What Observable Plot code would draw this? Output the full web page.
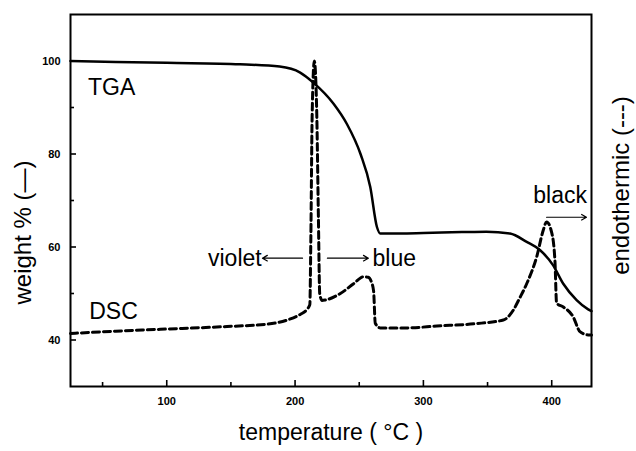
<!DOCTYPE html>
<html><head><meta charset="utf-8">
<script src="https://cdn.jsdelivr.net/npm/d3@7"></script>
<script src="https://cdn.jsdelivr.net/npm/@observablehq/plot@0.6"></script>
<style>
body{margin:0;background:#fff;}
#chart svg{display:block;}
</style></head><body><div id="chart"></div>
<script>
// TGA curve (solid): temperature (°C) -> weight %
const tgaTemp   = [25, 100, 157, 188, 204, 214, 230, 240.5, 251, 258.6, 263.8, 266.4, 282, 300, 330, 349, 367.5, 380.5, 391, 401, 409, 419.4, 428.4, 431];
const tgaWeight = [100, 99.6, 99.3, 98.8, 97.5, 95.4, 90.8, 86.4, 80, 72.9, 64.3, 62.9, 62.9, 63.0, 63.2, 63.3, 62.9, 61.1, 59.3, 56.1, 52.1, 48.6, 46.6, 46.2];
// DSC curve (dashed): temperature (°C) -> endothermic signal (same axis units)
const dscTemp   = [25, 60, 95, 147, 178, 195, 204, 209, 211.5, 212.3, 213.3, 215, 216.8, 218.2, 219.2, 221, 223.6, 235.3, 245.6, 253.4, 257, 259.5, 261.2, 262.5, 266.4, 287, 310.5, 340, 362.3, 370, 375, 380.5, 388.3, 393.4, 396, 399.9, 402.5, 403.8, 409, 416.7, 422, 428.4, 431];
const dscSignal = [41.4, 41.9, 42.3, 42.9, 43.4, 44.4, 45.5, 46.5, 47.6, 62, 88, 100, 90, 66, 50, 48.5, 48.6, 50, 52.1, 53.6, 53.5, 52.5, 50.5, 43.6, 42.6, 42.6, 43.0, 43.5, 44.3, 46.4, 49, 52.1, 57.9, 63.6, 65.4, 63.2, 57.1, 47.9, 47.1, 45, 41.8, 41.1, 41.1];
// Axis ticks
const xMajorTicks = [100, 200, 300, 400];
const xMinorTicks = [50, 150, 250, 350];
const yMajorTicks = [40, 60, 80, 100];
const yMinorTicks = [50, 70, 90];
// Curve labels
const curveNames = ["TGA", "DSC"];
const curveNameTemp = [38.6, 39.6];
const curveNameValue = [94.3, 46.1];
// Colour-change annotations
const phaseNames = ["violet", "blue", "black"];
const phaseTemp = [174, 260.4, 385.6];
const phaseValue = [57.6, 57.6, 71.1];
const phaseAnchor = ["end", "start", "start"];
const arrowFrom = [205.8, 225.2, 396];
const arrowTo = [174.6, 257.1, 427.1];
const arrowValue = [57.6, 57.6, 66.4];

const tga = tgaTemp.map((t, i) => ({t, v: tgaWeight[i]}));
const dsc = dscTemp.map((t, i) => ({t, v: dscSignal[i]}));
const curveLabelData = curveNames.map((n, i) => ({n, t: curveNameTemp[i], v: curveNameValue[i]}));
const phaseData = phaseNames.map((n, i) => ({n, t: phaseTemp[i], v: phaseValue[i], a: phaseAnchor[i]}));
const arrowData = arrowFrom.map((f, i) => ({x1: f, x2: arrowTo[i], y: arrowValue[i]}));

const font = "'Liberation Sans', Arial, Helvetica, sans-serif";
const W = 636, H = 451, mL = 70, mR = 45, mT = 14, mB = 65;
const innerW = W - mL - mR, innerH = H - mT - mB;

const chart = Plot.plot({
  width: W,
  height: H,
  marginLeft: mL,
  marginRight: mR,
  marginTop: mT,
  marginBottom: mB,
  x: {domain: [25, 431]},
  y: {domain: [30, 110]},
  style: {fontFamily: font, background: "white", color: "black", overflow: "visible"},
  marks: [
    // inward ticks
    Plot.tickX(xMajorTicks, {x: d => d, insetTop: innerH - 6, stroke: "black", strokeWidth: 1.6}),
    Plot.tickX(xMinorTicks, {x: d => d, insetTop: innerH - 4, stroke: "black", strokeWidth: 1.6}),
    Plot.tickY(yMajorTicks, {y: d => d, insetRight: innerW - 6, stroke: "black", strokeWidth: 1.6}),
    Plot.tickY(yMinorTicks, {y: d => d, insetRight: innerW - 4, stroke: "black", strokeWidth: 1.6}),
    // tick labels
    Plot.axisX(xMajorTicks, {tickSize: 0, tickPadding: 11, fontSize: 11, fontWeight: "bold", label: null}),
    Plot.axisY(yMajorTicks, {tickSize: 0, tickPadding: 10, fontSize: 11, fontWeight: "bold", label: null}),
    Plot.frame({strokeWidth: 2}),
    // curves
    Plot.line(tga, {x: "t", y: "v", stroke: "black", strokeWidth: 2.5, curve: "monotone-x"}),
    Plot.line(dsc, {x: "t", y: "v", stroke: "black", strokeWidth: 3, strokeDasharray: "7,4", curve: "monotone-x"}),
    // labels
    Plot.text(curveLabelData, {x: "t", y: "v", text: "n", textAnchor: "start", fontSize: 23}),
    Plot.text(phaseData.filter(d => d.a === "end"), {x: "t", y: "v", text: "n", textAnchor: "end", fontSize: 23}),
    Plot.text(phaseData.filter(d => d.a === "start"), {x: "t", y: "v", text: "n", textAnchor: "start", fontSize: 23}),
    Plot.arrow(arrowData, {x1: "x1", x2: "x2", y1: "y", y2: "y", stroke: "black", strokeWidth: 1.2, headLength: 7}),
    // axis titles
    Plot.text(["temperature ( °C )"], {text: d => d, frameAnchor: "bottom", textAnchor: "middle", lineAnchor: "middle", dy: 46, fontSize: 23}),
    Plot.text(["weight % (—)"], {text: d => d, frameAnchor: "left", textAnchor: "middle", lineAnchor: "middle", dx: -47, dy: 32, rotate: -90, fontSize: 24, letterSpacing: 2}),
    Plot.text(["endothermic (---)"], {text: d => d, frameAnchor: "right", textAnchor: "middle", lineAnchor: "middle", dx: 30, dy: -15, rotate: -90, fontSize: 24})
  ]
});
document.getElementById("chart").appendChild(chart);
</script>
</body></html>
